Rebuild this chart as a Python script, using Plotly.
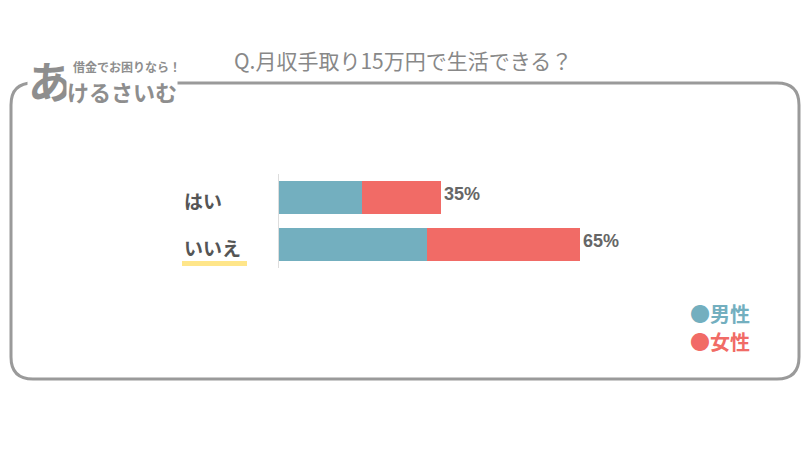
import plotly.graph_objects as go

W, H = 810, 456

categories = ["はい", "いいえ"]
male = [18, 32]
female = [17, 33]
totals = [35, 65]
total_labels = ["35%", "65%"]
series_names = ["男性", "女性"]

TEAL = "#73afbf"
RED = "#f16b66"
FONT = "Noto Sans CJK JP"


def px(x, y):
    # pixel position -> paper coords
    return x / W, 1 - y / H


def rounded_rect(x0, y0, x1, y1, r):
    pts = []
    a = px(x0 + r, y0); pts.append(f"M{a[0]},{a[1]}")
    b = px(x1 - r, y0); pts.append(f"L{b[0]},{b[1]}")
    c = px(x1, y0); d = px(x1, y0 + r); pts.append(f"Q{c[0]},{c[1]} {d[0]},{d[1]}")
    e = px(x1, y1 - r); pts.append(f"L{e[0]},{e[1]}")
    f = px(x1, y1); g = px(x1 - r, y1); pts.append(f"Q{f[0]},{f[1]} {g[0]},{g[1]}")
    h = px(x0 + r, y1); pts.append(f"L{h[0]},{h[1]}")
    i = px(x0, y1); j = px(x0, y1 - r); pts.append(f"Q{i[0]},{i[1]} {j[0]},{j[1]}")
    k = px(x0, y0 + r); pts.append(f"L{k[0]},{k[1]}")
    l = px(x0, y0); pts.append(f"Q{l[0]},{l[1]} {a[0]},{a[1]}Z")
    return " ".join(pts)


fig = go.Figure()
fig.add_trace(go.Bar(y=categories, x=male, orientation="h", name=series_names[0],
                     marker=dict(color=TEAL, line_width=0), width=0.7, hoverinfo="x+name"))
fig.add_trace(go.Bar(y=categories, x=female, orientation="h", name=series_names[1],
                     marker=dict(color=RED, line_width=0), width=0.7, hoverinfo="x+name"))

annotations = []
for cat, tot, lab in zip(categories, totals, total_labels):
    annotations.append(dict(x=tot, y=cat, xref="x", yref="y", text=f"<b>{lab}</b>",
                            showarrow=False, xanchor="left", xshift=1, yshift=3,
                            font=dict(family="Liberation Sans", size=18, color="#666666")))
    annotations.append(dict(x=182 / W, y=cat, xref="paper", yref="y", text=f"<b>{cat}</b>",
                            showarrow=False, xanchor="left", yshift=-3,
                            font=dict(family=FONT, size=19, color="#555555")))

# legend
for i, (name, col) in enumerate(zip(series_names, [TEAL, RED])):
    lx, ly = px(688, 313 + 28 * i)
    annotations.append(dict(x=lx, y=ly, xref="paper", yref="paper", text=f"<b>●{name}</b>",
                            showarrow=False, xanchor="left", yanchor="middle",
                            font=dict(family=FONT, size=20, color=col)))

# title
tx, ty = px(403, 60)
annotations.append(dict(x=tx, y=ty, xref="paper", yref="paper", text="Q.月収手取り15万円で生活できる？",
                        showarrow=False, xanchor="center", yanchor="middle",
                        font=dict(family=FONT, size=21, color="#888888")))

# logo
outline = "1px 1px 0 #fff, -1px -1px 0 #fff, 1px -1px 0 #fff, -1px 1px 0 #fff"
lx, ly = px(27, 80)
annotations.append(dict(x=lx, y=ly, xref="paper", yref="paper", text="<b>あ</b>",
                        showarrow=False, xanchor="left", yanchor="middle", bgcolor="white",
                        borderpad=0, font=dict(family=FONT, size=44, color="#8e8e8e", shadow=outline)))
lx, ly = px(66, 91)
annotations.append(dict(x=lx, y=ly, xref="paper", yref="paper", text="<b>けるさいむ</b>",
                        showarrow=False, xanchor="left", yanchor="middle", bgcolor="white",
                        borderpad=0, font=dict(family=FONT, size=22, color="#8e8e8e", shadow=outline)))
lx, ly = px(72, 67)
annotations.append(dict(x=lx, y=ly, xref="paper", yref="paper", text="<b>借金でお困りなら！</b>",
                        showarrow=False, xanchor="left", yanchor="middle", borderpad=0,
                        font=dict(family=FONT, size=12, color="#8e8e8e")))

shapes = [
    dict(type="path", xref="paper", yref="paper", path=rounded_rect(11, 83, 799, 379, 22),
         line=dict(color="#9a9a9a", width=3), fillcolor="rgba(0,0,0,0)", layer="below"),
]
u0 = px(182, 261); u1 = px(247, 266)
shapes.append(dict(type="rect", xref="paper", yref="paper", x0=u0[0], y0=u0[1], x1=u1[0], y1=u1[1],
                   fillcolor="#ffe68a", line_width=0, layer="below"))

fig.update_layout(
    width=W, height=H,
    margin=dict(l=0, r=0, t=0, b=0),
    paper_bgcolor="white", plot_bgcolor="white",
    barmode="stack", showlegend=False,
    xaxis=dict(domain=[279 / W, 742 / W], range=[0, 100], visible=False),
    yaxis=dict(domain=[188 / H, 282 / H], range=[-0.5, 1.5], categoryorder="array",
               categoryarray=categories[::-1], showticklabels=False, showgrid=False,
               showline=True, linecolor="#dddddd", linewidth=1, zeroline=False),
    annotations=annotations,
    shapes=shapes,
    font=dict(family=FONT),
)

# the page body has a default 8px margin; drop it so the figure sits at the window corner
fig.write_html("out.html", config={"displayModeBar": False},
               post_script="document.body.style.margin='0';")
